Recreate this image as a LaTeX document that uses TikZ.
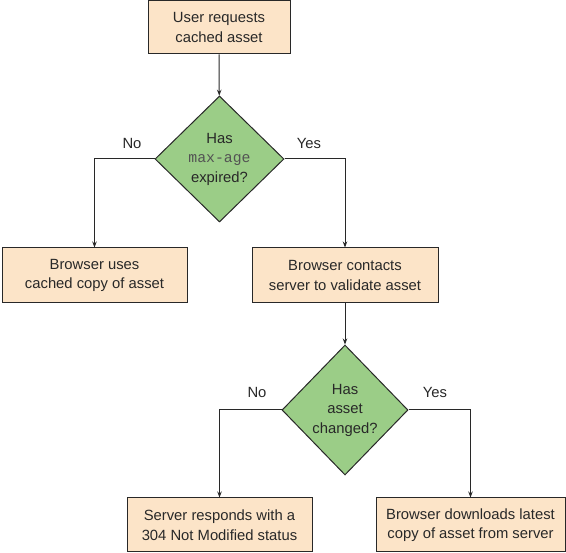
\documentclass[tikz,border=0pt]{standalone}
\usepackage{fontspec}
\setmainfont{Liberation Sans}
\setmonofont{Liberation Mono}
\usetikzlibrary{shapes.geometric,arrows.meta}
\definecolor{boxfill}{RGB}{252,228,200}
\definecolor{askfill}{RGB}{155,205,135}
\definecolor{ink}{RGB}{40,40,40}

\begin{document}
\begin{tikzpicture}[x=1pt,y=-1pt,
    stepbox/.style={draw=ink, fill=boxfill, line width=1pt, inner sep=0pt, align=center, text=ink},
    ask/.style={draw=ink, fill=askfill, diamond, aspect=1, inner sep=0pt, line width=1pt, align=center, text=ink},
    flow/.style={draw=ink, line width=1pt, -{Stealth[length=6pt,width=4.5pt]}},
    lbl/.style={text=ink},
    every node/.append style={font=\fontsize{14.8}{19.5}\selectfont}]
      \useasboundingbox (0,0) rectangle (566,553);
      \node[stepbox, minimum width=142, minimum height=53] (request)  at (219,27.5)  {User requests\\cached asset};
      \node[ask, minimum width=129, minimum height=126]    (expired)  at (219.5,159) {Has\\{\ttfamily\color{ink!80}max-age}\\expired?};
      \node[stepbox, minimum width=185, minimum height=55] (usecache) at (94.5,275.5) {Browser uses\\cached copy of asset};
      \node[stepbox, minimum width=186, minimum height=55] (contact)  at (345,275.5) {Browser contacts\\server to validate asset};
      \node[ask, minimum width=126, minimum height=130]    (changed)  at (345,410)   {Has\\asset\\changed?};
      \node[stepbox, minimum width=185, minimum height=54] (notmod)   at (219.5,525) {Server responds with a\\304 Not Modified status};
      \node[stepbox, minimum width=189, minimum height=54] (download) at (470.5,525) {Browser downloads latest\\copy of asset from server};
      \node[lbl] (no1)  at (132,143) {No};
      \node[lbl] (yes1) at (309,143) {Yes};
      \node[lbl] (no2)  at (257,392) {No};
      \node[lbl] (yes2) at (435,392) {Yes};
      \draw[flow] (request) -- (expired);
      \draw[flow] (expired.west) -| (usecache.north);
      \draw[flow] (expired.east) -| (contact.north);
      \draw[flow] (contact) -- (changed);
      \draw[flow] (changed.west) -| (notmod.north);
      \draw[flow] (changed.east) -| (download.north);
    \end{tikzpicture}
\end{document}
